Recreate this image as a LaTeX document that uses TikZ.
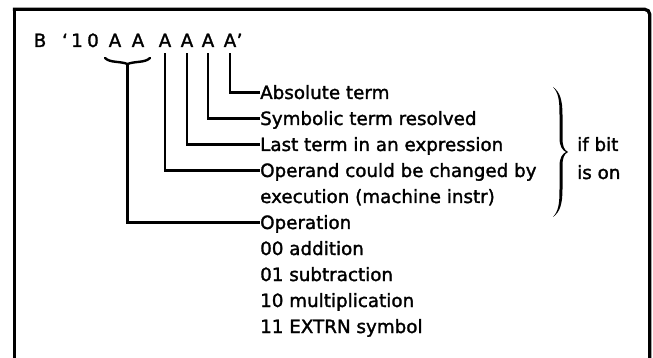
\documentclass[tikz,border=0pt]{standalone}
\usepackage{fontspec}
\setmainfont{DejaVu Sans}[FakeBold=1.6]
\usetikzlibrary{decorations.pathreplacing}
\begin{document}
\begin{tikzpicture}[x=1pt,y=-1pt,
  txt/.style={font=\fontsize{18.3}{22}\selectfont, inner sep=0pt, text height=13pt, text depth=0pt, anchor=base west},
  ttl/.style={font=\fontsize{18.3}{22}\selectfont, inner sep=0pt, text height=13pt, text depth=0pt, anchor=base},
  conn/.style={line width=2.7pt},
  framestyle/.style={line width=3.3pt}]
\useasboundingbox (0,0) rectangle (653,358);
% frame (open at the bottom)
\draw[framestyle] (14.3,358) -- (14.3,7.8);
\draw[framestyle, rounded corners=5pt] (12.8,9.3) -- (649.7,9.3) -- (649.7,358);
% title
\node[ttl] (b) at (40,47) {B};
\node[ttl] (q) at (65,47) {‘};
\node[ttl] (one) at (77,47) {1};
\node[ttl] (zero) at (93,47) {0};
\node[ttl] (a1) at (115,47) {A};
\node[ttl] (a2) at (138,47) {A};
\node[ttl] (a3) at (165,47) {A};
\node[ttl] (a4) at (187,47) {A};
\node[ttl] (a5) at (208,47) {A};
\node[ttl] (a6) at (230,47) {A};
\node[ttl, anchor=base west] (q2) at (a6.base east) {’};
% texts
\node[txt] (abs) at (260,99) {Absolute term};
\node[txt] (sym) at (260,125) {Symbolic term resolved};
\node[txt] (last) at (260,151) {Last term in an expression};
\node[txt] (opd) at (260,177) {Operand could be changed by};
\node[txt] (exe) at (260,203) {execution (machine instr)};
\node[txt] (op) at (260,229) {Operation};
\node[txt] (add) at (260,255) {00 addition};
\node[txt] (sub) at (260,281) {01 subtraction};
\node[txt] (mul) at (260,307) {10 multiplication};
\node[txt] (ext) at (260,333) {11 EXTRN symbol};
\node[txt] (ifbit) at (577,151) {if bit};
\node[txt] (ison) at (577,179) {is on};
% connectors
\draw[conn] ([yshift=-6pt]a6.south) |- (abs.west);
\draw[conn] ([yshift=-6pt]a5.south) |- (sym.west);
\draw[conn] ([yshift=-6pt]a4.south) |- (last.west);
\draw[conn] ([yshift=-6pt]a3.south) |- (opd.west);
% brace under the first two A
\draw[line width=2.4pt, line cap=round] (105,58) .. controls (110,63) and (120,61) .. (127.5,64)
      .. controls (135,61) and (145,63) .. (150,58);
\coordinate (brtip) at (127.5,63);
\draw[conn] (brtip) |- (op.west);
% right brace (calligraphic)
\fill (553,87) .. controls (560,92) and (562.5,100) .. (562.5,115) -- (562.5,138)
      .. controls (562.5,146) and (564,150) .. (568,152)
      .. controls (564,154) and (562.5,158) .. (562.5,166) -- (562.5,189)
      .. controls (562.5,204) and (560,212) .. (553,217)
      .. controls (558.5,211) and (559.5,204) .. (559.5,189) -- (559.5,166)
      .. controls (559.5,158) and (562,154) .. (566,152)
      .. controls (562,150) and (559.5,146) .. (559.5,138) -- (559.5,115)
      .. controls (559.5,100) and (558.5,93) .. (553,87) -- cycle;
\end{tikzpicture}
\end{document}
